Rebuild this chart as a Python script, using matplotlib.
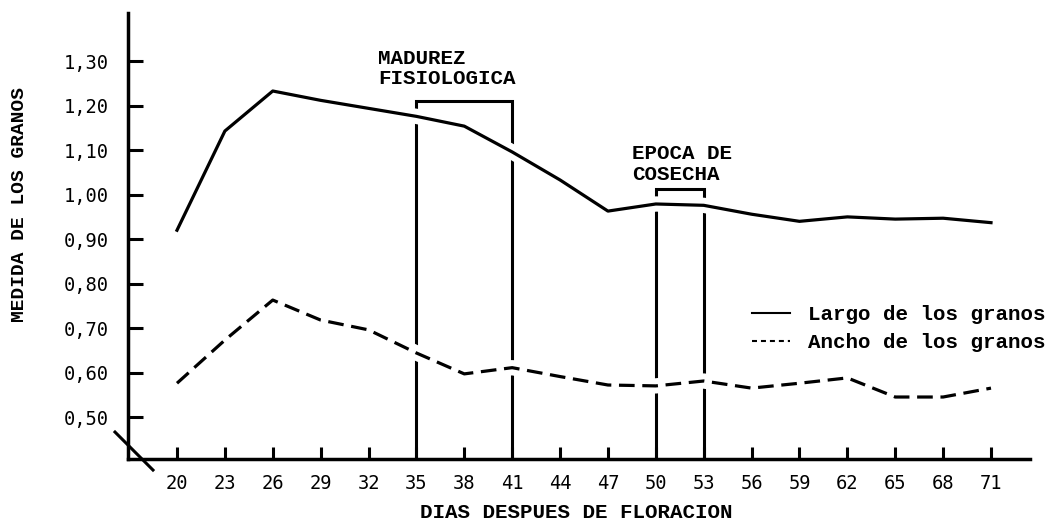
import matplotlib
matplotlib.use('Agg')
from matplotlib import pyplot
from matplotlib.lines import Line2D

SERIF_MONO = 'Liberation Mono'
SANS_MONO = 'DejaVu Sans Mono'

# dias despues de floracion
days = [20, 23, 26, 29, 32, 35, 38, 41, 44, 47, 50, 53, 56, 59, 62, 65, 68, 71]
# largo de los granos (linea continua)
largo = [0.920, 1.143, 1.233, 1.212, 1.194, 1.176, 1.154, 1.096, 1.033,
         0.963, 0.979, 0.976, 0.956, 0.940, 0.950, 0.945, 0.947, 0.937]
# ancho de los granos (linea discontinua)
ancho = [0.576, 0.673, 0.763, 0.718, 0.696, 0.644, 0.597, 0.611, 0.591,
         0.572, 0.570, 0.581, 0.565, 0.576, 0.588, 0.545, 0.545, 0.565]

y_ticks = [0.50, 0.60, 0.70, 0.80, 0.90, 1.00, 1.10, 1.20, 1.30]
y_labels = ['0,50', '0,60', '0,70', '0,80', '0,90', '1,00', '1,10', '1,20', '1,30']

# periodos marcados: (inicio, fin, altura del corchete, texto, pos. del texto)
madurez = (35, 41, 1.210, 'MADUREZ\nFISIOLOGICA', 32.6, 1.284)
cosecha = (50, 53, 1.012, 'EPOCA DE\nCOSECHA', 48.5, 1.069)

XMIN, XMAX = 16.93, 73.44
YMIN, YMAX = 0.4056, 1.408


def draw_bracket(ax, period):
    x0, x1, top, label, tx, ty = period
    ax.plot([x0, x0, x1, x1], [YMIN, top, top, YMIN], color='black',
            lw=2.2, solid_joinstyle='miter', zorder=1)
    ax.text(tx, ty, label, family=SERIF_MONO, fontsize=15, weight='bold',
            ha='left', va='center', linespacing=1.1)


fig = pyplot.figure(figsize=(10.5, 5.27), dpi=100)
ax = fig.add_axes([0.1219, 0.129, 0.859, 0.846])

draw_bracket(ax, madurez)
draw_bracket(ax, cosecha)

# white underlay so the bracket lines look interrupted at the curves
ax.plot(days, largo, color='white', lw=11, solid_capstyle='butt', zorder=2)
ax.plot(days, ancho, color='white', lw=11, solid_capstyle='butt', zorder=2)
ax.plot(days, largo, color='black', lw=2.3, zorder=3)
ax.plot(days, ancho, color='black', lw=2.3, linestyle=(0, (4.9, 2.4)), zorder=3)

ax.set_xlim(XMIN, XMAX)
ax.set_ylim(YMIN, YMAX)

for side in ('top', 'right'):
    ax.spines[side].set_visible(False)
for side in ('left', 'bottom'):
    ax.spines[side].set_linewidth(2.5)

ax.set_xticks(days)
ax.set_xticklabels([str(d) for d in days], family=SANS_MONO, fontsize=13.5)
ax.set_yticks(y_ticks)
ax.set_yticklabels(y_labels, family=SANS_MONO, fontsize=13.5)
ax.tick_params(axis='x', direction='in', length=8.5, width=2.2, pad=11)
ax.tick_params(axis='y', direction='in', length=10.8, width=2.2, pad=14)

# axis break mark at the origin
ax.plot([-0.0144, 0.0277], [0.0605, -0.0247], transform=ax.transAxes,
        color='black', lw=2.2, clip_on=False)

fig.text(20 / 1050., 1 - 205 / 527., 'MEDIDA DE LOS GRANOS', rotation=90,
         family=SERIF_MONO, fontsize=14, weight='bold', ha='center', va='center')
fig.text(576 / 1050., 1 - 513 / 527., 'DIAS DESPUES DE FLORACION',
         family=SERIF_MONO, fontsize=15, weight='bold', ha='center', va='center')

handles = [Line2D([], [], color='black', lw=1.5),
           Line2D([], [], color='black', lw=1.5, linestyle=(0, (2.4, 1.9)))]
fig.legend(handles, ['Largo de los granos', 'Ancho de los granos'],
           loc='upper left', bbox_to_anchor=(752 / 1050., 1 - 305 / 527.),
           frameon=False, borderpad=0, borderaxespad=0, handlelength=1.82,
           handletextpad=0.86, labelspacing=0.45,
           prop={'family': SERIF_MONO, 'size': 15, 'weight': 'bold'})

fig.savefig('out.png', dpi=100)
